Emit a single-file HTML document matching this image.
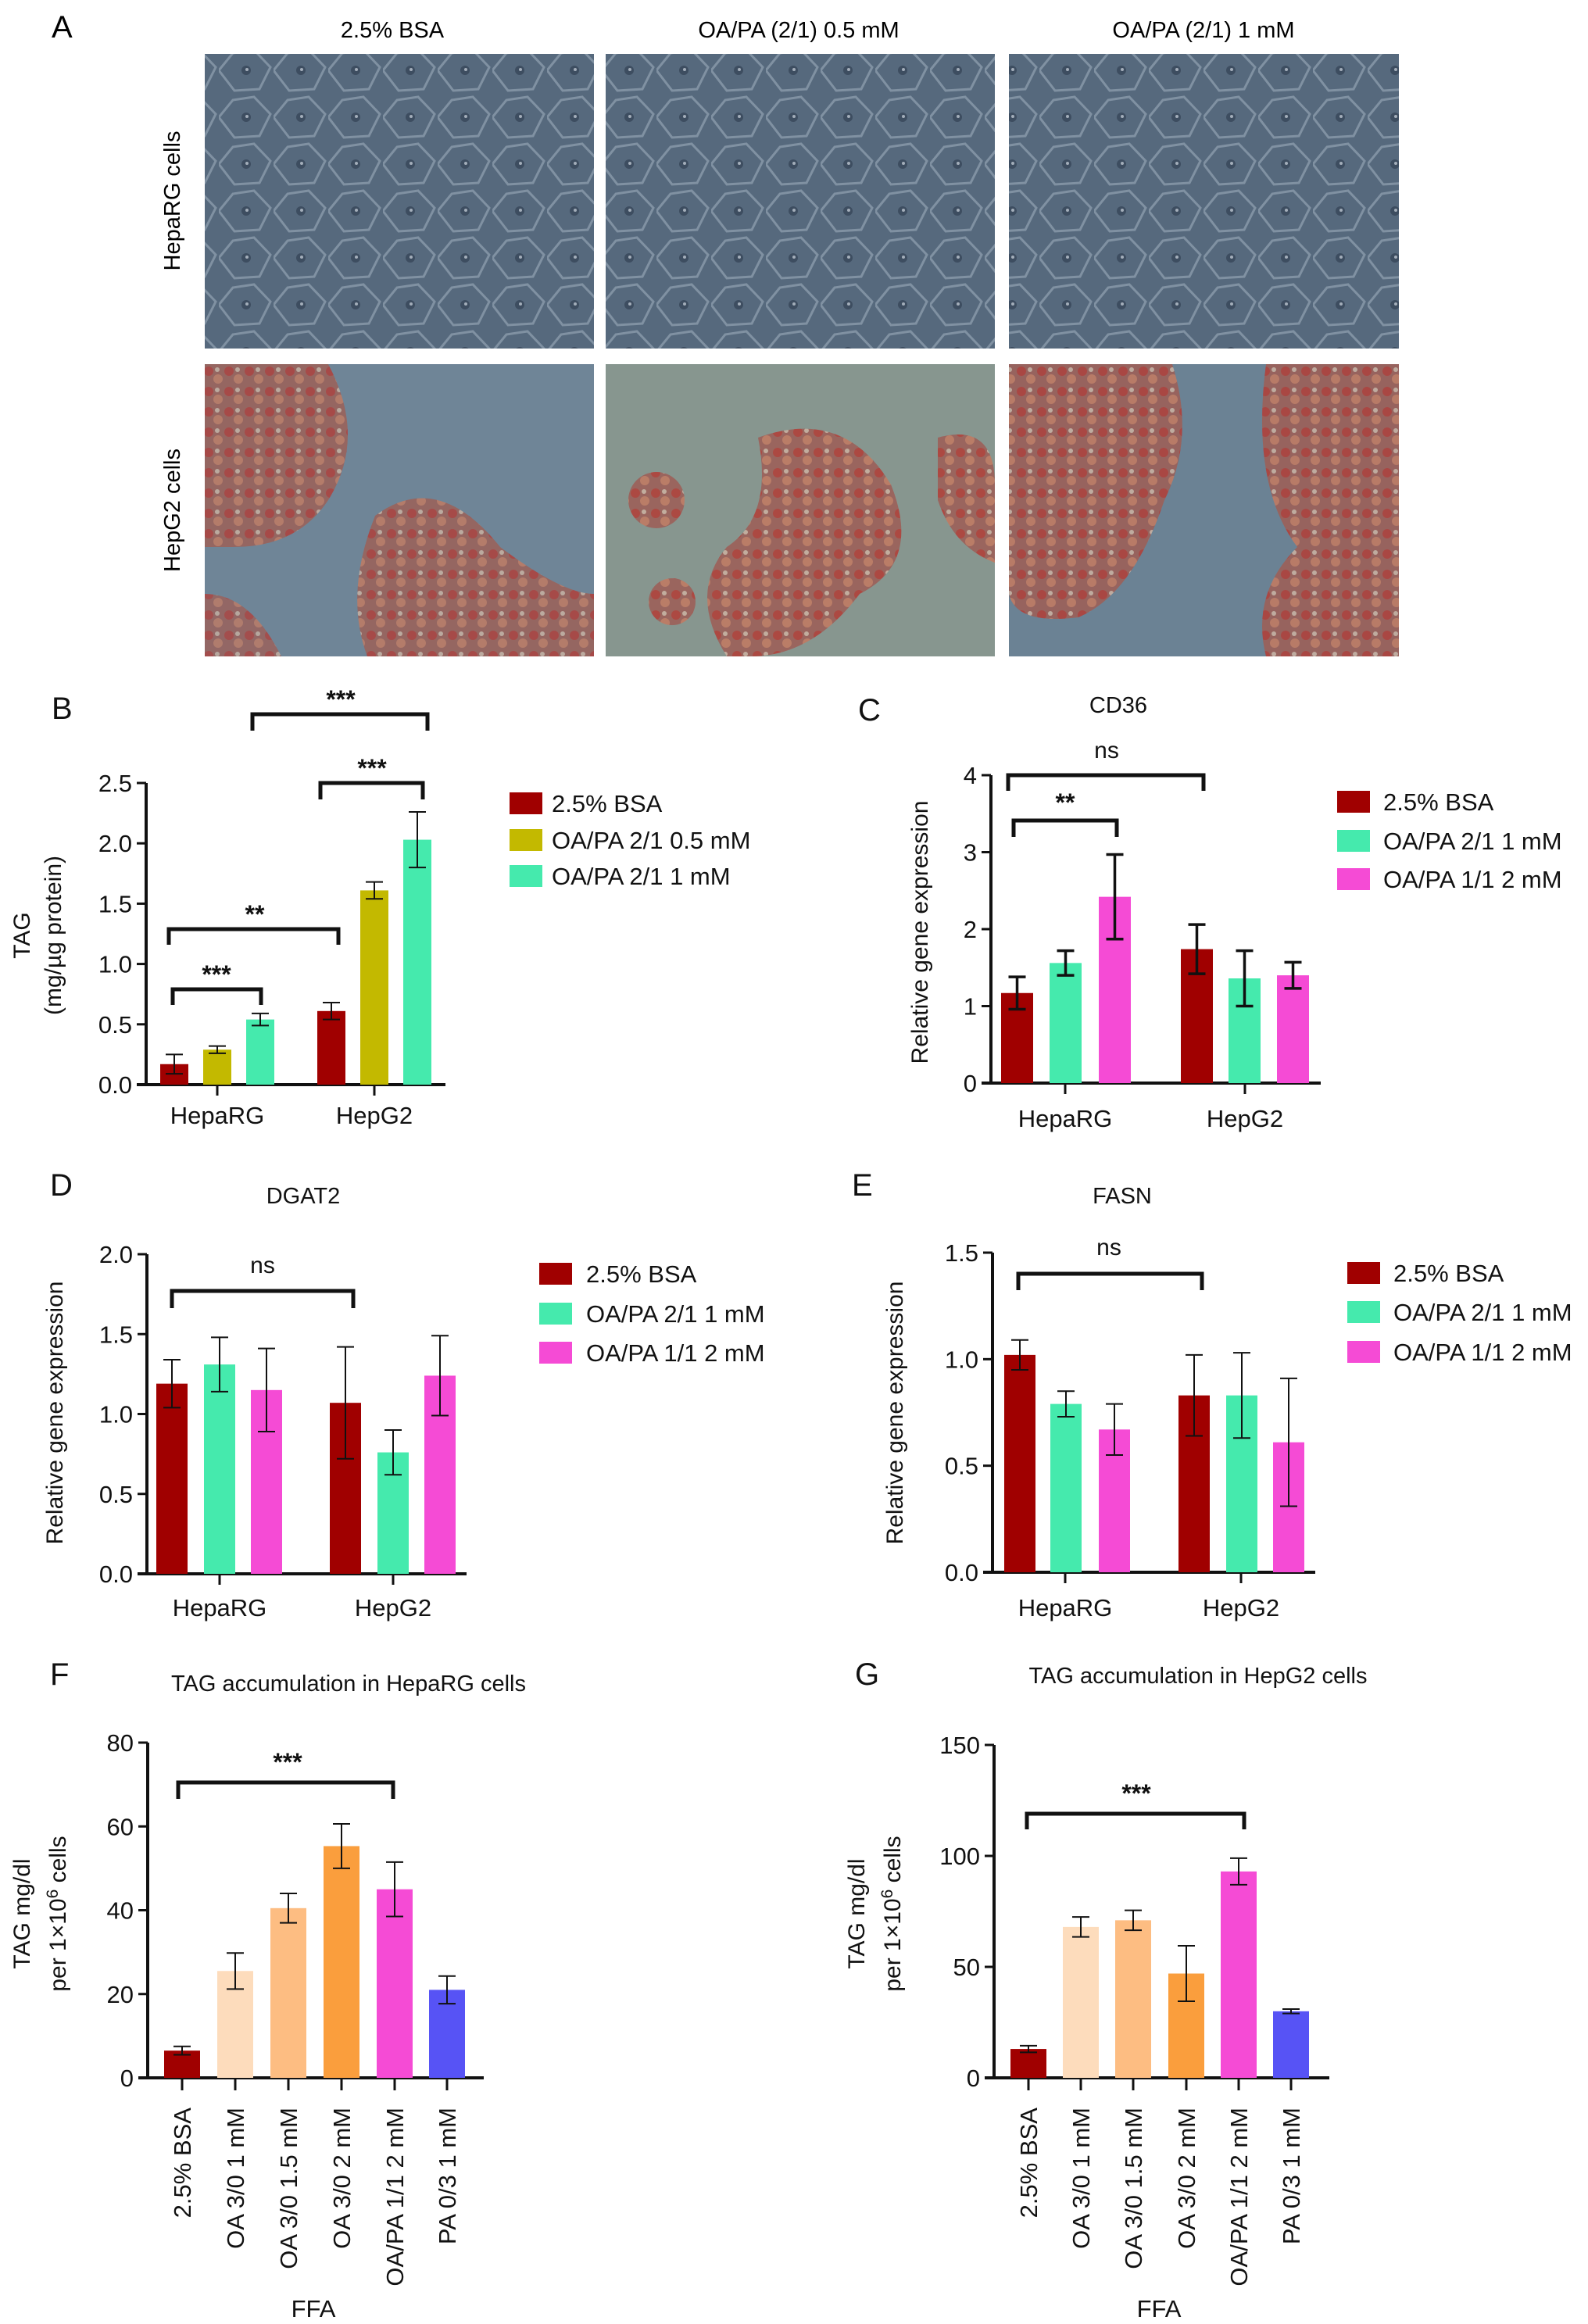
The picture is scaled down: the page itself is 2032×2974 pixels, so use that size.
<!DOCTYPE html>
<html><head><meta charset="utf-8">
<style>
html,body{margin:0;padding:0;background:#fff;}
svg{display:block;font-family:"Liberation Sans",Arial,sans-serif;}
</style></head>
<body>
<svg id="fig" width="2032" height="2974" viewBox="0 0 2032 2974" xmlns="http://www.w3.org/2000/svg">
<defs>
<pattern id="cellsA" width="70" height="60" patternUnits="userSpaceOnUse">
<rect width="70" height="60" fill="#56697d"/>
<path d="M0 30 L18 8 L45 4 L66 26 L52 54 L20 56 Z" fill="none" stroke="#a9b9c8" stroke-width="3" opacity="0.5"/>
<circle cx="35" cy="30" r="6" fill="#3d4d60"/>
<circle cx="36" cy="29" r="2" fill="#cfd8e0" opacity="0.7"/>
</pattern>
<pattern id="cellsR" width="26" height="26" patternUnits="userSpaceOnUse">
<rect width="26" height="26" fill="#9c6058"/>
<circle cx="7" cy="7" r="6" fill="#b0403a"/>
<circle cx="19" cy="17" r="6" fill="#c07a62"/>
<circle cx="18" cy="5" r="3" fill="#c8b0a0"/>
</pattern>
</defs>

<!-- Panel A -->
<g>
<text x="66" y="48" font-size="40">A</text>
<text x="502" y="48" font-size="29" text-anchor="middle">2.5% BSA</text>
<text x="1022" y="48" font-size="29" text-anchor="middle">OA/PA (2/1) 0.5 mM</text>
<text x="1540" y="48" font-size="29" text-anchor="middle">OA/PA (2/1) 1 mM</text>
<text transform="translate(230,257) rotate(-90)" font-size="29" text-anchor="middle">HepaRG cells</text>
<text transform="translate(230,653) rotate(-90)" font-size="29" text-anchor="middle">HepG2 cells</text>
<rect x="262" y="69" width="498" height="377" fill="url(#cellsA)"/>
<rect x="775" y="69" width="498" height="377" fill="url(#cellsA)"/>
<rect x="1291" y="69" width="499" height="377" fill="url(#cellsA)"/>
<g>
<rect x="262" y="466" width="498" height="374" fill="#6f8597"/>
<path d="M262 466 H420 Q470 560 420 640 Q380 700 300 700 L262 700 Z" fill="url(#cellsR)" opacity="0.85"/>
<path d="M480 660 Q560 600 640 700 Q720 760 760 760 V840 H470 Q440 760 480 660 Z" fill="url(#cellsR)" opacity="0.85"/>
<path d="M262 760 Q320 760 360 840 H262 Z" fill="url(#cellsR)" opacity="0.8"/>
</g>
<g>
<rect x="775" y="466" width="498" height="374" fill="#87968f"/>
<path d="M970 560 Q1080 520 1140 620 Q1180 720 1100 760 Q1040 840 960 840 H930 Q880 760 930 700 Q990 660 970 560 Z" fill="url(#cellsR)" opacity="0.9"/>
<circle cx="840" cy="640" r="36" fill="url(#cellsR)" opacity="0.9"/>
<circle cx="860" cy="770" r="30" fill="url(#cellsR)" opacity="0.9"/>
<path d="M1200 560 Q1273 540 1273 620 V720 Q1220 700 1200 640 Z" fill="url(#cellsR)" opacity="0.9"/>
</g>
<g>
<rect x="1291" y="466" width="499" height="374" fill="#6b8294"/>
<path d="M1291 466 H1500 Q1530 560 1490 640 Q1450 760 1380 790 Q1300 800 1291 760 Z" fill="url(#cellsR)" opacity="0.9"/>
<path d="M1620 466 H1790 V840 H1620 Q1600 760 1660 700 Q1600 620 1620 466 Z" fill="url(#cellsR)" opacity="0.9"/>
</g>
</g>

<g id="charts"></g>
</svg>

<script>
// ---- Panel B data ----
const bCategories = ["HepaRG", "HepG2"];
const bSeriesNames = ["2.5% BSA", "OA/PA 2/1 0.5 mM", "OA/PA 2/1 1 mM"];
const bBSA = [0.17, 0.61];
const bLow = [0.29, 1.61];
const bHigh = [0.54, 2.03];
const bBSAErr = [0.08, 0.07];
const bLowErr = [0.03, 0.07];
const bHighErr = [0.05, 0.23];
const bTicks = ["0.0", "0.5", "1.0", "1.5", "2.0", "2.5"];

// ---- Panel C data ----
const cCategories = ["HepaRG", "HepG2"];
const cSeriesNames = ["2.5% BSA", "OA/PA 2/1 1 mM", "OA/PA 1/1 2 mM"];
const cBSA = [1.17, 1.74];
const cOA21 = [1.56, 1.36];
const cOA11 = [2.42, 1.40];
const cBSAErr = [0.21, 0.32];
const cOA21Err = [0.16, 0.36];
const cOA11Err = [0.55, 0.17];
const cTicks = ["0", "1", "2", "3", "4"];

// ---- Panel D data ----
const dCategories = ["HepaRG", "HepG2"];
const dBSA = [1.19, 1.07];
const dOA21 = [1.31, 0.76];
const dOA11 = [1.15, 1.24];
const dBSAErr = [0.15, 0.35];
const dOA21Err = [0.17, 0.14];
const dOA11Err = [0.26, 0.25];
const dTicks = ["0.0", "0.5", "1.0", "1.5", "2.0"];

// ---- Panel E data ----
const eCategories = ["HepaRG", "HepG2"];
const eBSA = [1.02, 0.83];
const eOA21 = [0.79, 0.83];
const eOA11 = [0.67, 0.61];
const eBSAErr = [0.07, 0.19];
const eOA21Err = [0.06, 0.20];
const eOA11Err = [0.12, 0.30];
const eTicks = ["0.0", "0.5", "1.0", "1.5"];

// ---- Panel F / G data ----
const ffaCategories = ["2.5% BSA", "OA 3/0 1 mM", "OA 3/0 1.5 mM", "OA 3/0 2 mM", "OA/PA 1/1 2 mM", "PA 0/3 1 mM"];
const fValues = [6.5, 25.5, 40.5, 55.3, 45, 21];
const fErrors = [1, 4.3, 3.5, 5.3, 6.5, 3.3];
const fTicks = ["0", "20", "40", "60", "80"];
const gValues = [13, 68, 71, 47, 93, 30];
const gErrors = [1.5, 4.5, 4.5, 12.5, 6, 1];
const gTicks = ["0", "50", "100", "150"];

const NS = "http://www.w3.org/2000/svg";
const root = document.getElementById("charts");
function mk(tag, attrs, parent) {
  const e = document.createElementNS(NS, tag);
  for (const k in attrs) e.setAttribute(k, attrs[k]);
  (parent || root).appendChild(e);
  return e;
}
const RED = "#a00000", YEL = "#c3b900", GRN = "#45eaad", PNK = "#f54bd5";
const FCOL = ["#a00000", "#fddcbc", "#fdbd82", "#fa9e3d", "#f54bd5", "#5753f5"];
const TICKFS = 31, CATFS = 31, LEGFS = 31;

function axisY(ax, v) { return ax.y0 - (v - ax.vmin) / (ax.vmax - ax.vmin) * (ax.y0 - ax.y1); }

function drawAxes(g, ax, ticks, name) {
  const yl = mk("line", {x1: ax.x, y1: ax.y1, x2: ax.x, y2: ax.y0, stroke: "#111", "stroke-width": 4}, g);
  
  
  const xl = mk("line", {x1: ax.x - 12, y1: ax.y0, x2: ax.xEnd, y2: ax.y0, stroke: "#111", "stroke-width": 4}, g);
  
  
  ticks.forEach(function (t) {
    const y = axisY(ax, parseFloat(t));
    mk("line", {x1: ax.x - 12, y1: y, x2: ax.x, y2: y, stroke: "#111", "stroke-width": 3}, g);
    const tx = mk("text", {x: ax.x - 18, y: y + 11, "font-size": TICKFS, "text-anchor": "end", fill: "#111"}, g);
    tx.textContent = t;
    
    
  });
}

function drawBar(g, ax, x0, w, v, err, col, name, thick) {
  const y = axisY(ax, v);
  const r = mk("rect", {x: x0, y: y, width: w, height: ax.y0 - y, fill: col}, g);
  
  
  const cx = x0 + w / 2, yt = axisY(ax, v + err), yb = axisY(ax, v - err);
  const sw = thick ? 3.5 : 2;
  const eb = mk("path", {d: "M" + (cx - 11) + " " + yt + "H" + (cx + 11) + "M" + cx + " " + yt + "V" + yb + "M" + (cx - 11) + " " + yb + "H" + (cx + 11), stroke: "#111", "stroke-width": sw, fill: "none"}, g);
  
  
}

function bracket(g, x1, x2, y, y2, label, lx, ly, fs, name) {
  const p = mk("path", {d: "M" + x1 + " " + y2 + "V" + y + "H" + x2 + "V" + y2, stroke: "#111", "stroke-width": 5, fill: "none"}, g);
  
  
  const t = mk("text", {x: lx, y: ly, "font-size": fs, "text-anchor": "middle", fill: "#111", "font-weight": label === "ns" ? "normal" : "bold"}, g);
  t.textContent = label;
  
  
}

function txt(g, x, y, s, fs, anchor, name, rot) {
  const a = {x: x, y: y, "font-size": fs, "text-anchor": anchor || "start", fill: "#111"};
  if (rot) { a.transform = "rotate(-90 " + x + " " + y + ")"; }
  const t = mk("text", a, g);
  t.textContent = s;
  
  
  return t;
}

function legend(g, x, tx, ys, names, cols, pname) {
  names.forEach(function (n, i) {
    const s = mk("rect", {x: x, y: ys[i] - 14, width: 42, height: 28, fill: cols[i]}, g);
    
    
    txt(g, tx, ys[i] + 11, n, LEGFS, "start", pname + '-legend-entry');
  });
}

function grouped(name, ax, cats, series, errs, cols, ticks, barX, barW, catX, catY, thick) {
  const g = mk("g", {});
  
  
  drawAxes(g, ax, ticks, name);
  cats.forEach(function (c, ci) {
    series.forEach(function (s, si) {
      drawBar(g, ax, barX[ci][si], barW, s[ci], errs[si][ci], cols[si], name + '-bar-' + c.toLowerCase() + '-' + si, thick);
    });
    mk("line", {x1: catX[ci], y1: ax.y0, x2: catX[ci], y2: ax.y0 + 14, stroke: "#111", "stroke-width": 3}, g);
    txt(g, catX[ci], catY, c, CATFS, "middle", name + '-x-category-label');
  });
  return g;
}

// ---- B ----
(function () {
  const ax = {x: 187, xEnd: 570, y0: 1388, y1: 1002, vmin: 0, vmax: 2.5};
  const g = grouped("panel-b-chart", ax, bCategories, [bBSA, bLow, bHigh], [bBSAErr, bLowErr, bHighErr], [RED, YEL, GRN], bTicks,
    [[205, 260, 315], [406, 461, 516]], 36, [278, 479], 1438, false);
  txt(g, 66, 920, "B", 40, "start", "panel-b-label");
  txt(g, 38, 1197, "TAG", 30, "middle", "panel-b-y-axis-title", true);
  txt(g, 78, 1197, "(mg/µg protein)", 30, "middle", "panel-b-y-axis-title-unit", true);
  bracket(g, 323, 547, 914, 935, "***", 436, 906, 32, "panel-b-bracket-top");
  bracket(g, 410, 541, 1002, 1023, "***", 476, 994, 32, "panel-b-bracket-hepg2");
  bracket(g, 216, 433, 1189, 1209, "**", 326, 1181, 32, "panel-b-bracket-bsa");
  bracket(g, 221, 334, 1266, 1286, "***", 277, 1258, 32, "panel-b-bracket-heparg");
  legend(g, 652, 706, [1028, 1075, 1121], bSeriesNames, [RED, YEL, GRN], "panel-b");
})();

// ---- C ----
(function () {
  const ax = {x: 1268, xEnd: 1690, y0: 1386, y1: 992, vmin: 0, vmax: 4};
  const g = grouped("panel-c-chart", ax, cCategories, [cBSA, cOA21, cOA11], [cBSAErr, cOA21Err, cOA11Err], [RED, GRN, PNK], cTicks,
    [[1281, 1343, 1406], [1511, 1572, 1634]], 41, [1363, 1593], 1442, true);
  txt(g, 1098, 922, "C", 40, "start", "panel-c-label");
  txt(g, 1431, 912, "CD36", 29, "middle", "panel-c-title");
  txt(g, 1187, 1193, "Relative gene expression", 30, "middle", "panel-c-y-axis-title", true);
  bracket(g, 1290, 1540, 992, 1012, "ns", 1416, 970, 30, "panel-c-bracket-ns");
  bracket(g, 1297, 1429, 1050, 1071, "**", 1363, 1038, 32, "panel-c-bracket-heparg");
  legend(g, 1711, 1770, [1026, 1076, 1125], cSeriesNames, [RED, GRN, PNK], "panel-c");
})();

// ---- D ----
(function () {
  const ax = {x: 188, xEnd: 597, y0: 2014, y1: 1605, vmin: 0, vmax: 2};
  const g = grouped("panel-d-chart", ax, dCategories, [dBSA, dOA21, dOA11], [dBSAErr, dOA21Err, dOA11Err], [RED, GRN, PNK], dTicks,
    [[200, 261, 321], [422, 483, 543]], 40, [281, 503], 2068, false);
  txt(g, 64, 1530, "D", 40, "start", "panel-d-label");
  txt(g, 388, 1540, "DGAT2", 29, "middle", "panel-d-title");
  txt(g, 80, 1808, "Relative gene expression", 30, "middle", "panel-d-y-axis-title", true);
  bracket(g, 220, 452, 1652, 1674, "ns", 336, 1629, 30, "panel-d-bracket-ns");
  legend(g, 690, 750, [1630, 1681, 1731], cSeriesNames, [RED, GRN, PNK], "panel-d");
})();

// ---- E ----
(function () {
  const ax = {x: 1270, xEnd: 1683, y0: 2012, y1: 1603, vmin: 0, vmax: 1.5};
  const g = grouped("panel-e-chart", ax, eCategories, [eBSA, eOA21, eOA11], [eBSAErr, eOA21Err, eOA11Err], [RED, GRN, PNK], eTicks,
    [[1285, 1344, 1406], [1508, 1569, 1629]], 40, [1363, 1588], 2068, false);
  txt(g, 1090, 1530, "E", 40, "start", "panel-e-label");
  txt(g, 1436, 1540, "FASN", 29, "middle", "panel-e-title");
  txt(g, 1155, 1808, "Relative gene expression", 30, "middle", "panel-e-y-axis-title", true);
  bracket(g, 1303, 1538, 1630, 1651, "ns", 1419, 1606, 30, "panel-e-bracket-ns");
  legend(g, 1724, 1783, [1629, 1679, 1730], cSeriesNames, [RED, GRN, PNK], "panel-e");
})();

// ---- F / G ----
function ffaChart(name, ax, vals, errs, ticks, centers) {
  const g = mk("g", {});
  
  
  drawAxes(g, ax, ticks, name);
  ffaCategories.forEach(function (c, i) {
    drawBar(g, ax, centers[i] - 23, 46, vals[i], errs[i], FCOL[i], name + '-bar-' + i, false);
    mk("line", {x1: centers[i], y1: ax.y0, x2: centers[i], y2: ax.y0 + 16, stroke: "#111", "stroke-width": 3}, g);
    txt(g, centers[i] + 11, 2697, c, 31, "end", name + '-x-category-label', true);
  });
  return g;
}
(function () {
  const ax = {x: 189, xEnd: 619, y0: 2659, y1: 2230, vmin: 0, vmax: 80};
  const g = ffaChart("panel-f-chart", ax, fValues, fErrors, fTicks, [233, 301, 369, 437, 505, 572]);
  txt(g, 64, 2156, "F", 40, "start", "panel-f-label");
  txt(g, 446, 2164, "TAG accumulation in HepaRG cells", 29, "middle", "panel-f-title");
  txt(g, 38, 2449, "TAG mg/dl", 30, "middle", "panel-f-y-axis-title", true);
  const t2 = txt(g, 84, 2449, "", 30, "middle", "panel-f-y-axis-title-unit", true);
  t2.innerHTML = 'per 1×10<tspan dy="-10" font-size="21">6</tspan><tspan dy="10"> cells</tspan>';
  bracket(g, 228, 503, 2281, 2302, "***", 368, 2266, 32, "panel-f-bracket");
  txt(g, 401, 2965, "FFA", 31, "middle", "panel-f-x-axis-title");
})();
(function () {
  const ax = {x: 1272, xEnd: 1701, y0: 2659, y1: 2233, vmin: 0, vmax: 150};
  const g = ffaChart("panel-g-chart", ax, gValues, gErrors, gTicks, [1316, 1383, 1450, 1518, 1585, 1652]);
  txt(g, 1094, 2156, "G", 40, "start", "panel-g-label");
  txt(g, 1533, 2154, "TAG accumulation in HepG2 cells", 29, "middle", "panel-g-title");
  txt(g, 1106, 2449, "TAG mg/dl", 30, "middle", "panel-g-y-axis-title", true);
  const t2 = txt(g, 1152, 2449, "", 30, "middle", "panel-g-y-axis-title-unit", true);
  t2.innerHTML = 'per 1×10<tspan dy="-10" font-size="21">6</tspan><tspan dy="10"> cells</tspan>';
  bracket(g, 1314, 1592, 2321, 2341, "***", 1454, 2306, 32, "panel-g-bracket");
  txt(g, 1483, 2965, "FFA", 31, "middle", "panel-g-x-axis-title");
})();
</script>
</body></html>
